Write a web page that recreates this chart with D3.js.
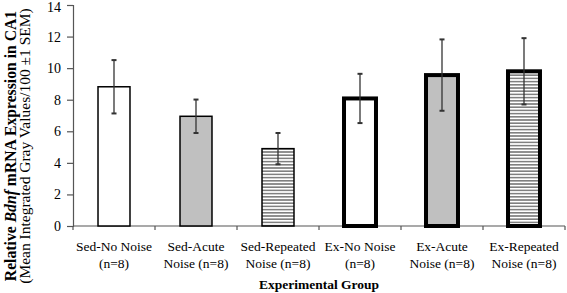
<!DOCTYPE html>
<html>
<head>
<meta charset="utf-8">
<script src="https://cdn.jsdelivr.net/npm/d3@7"></script>
<style>
  body { margin: 0; background: #fff; }
  text { font-family: "Liberation Serif", "Times New Roman", serif; fill: #000; }
</style>
</head>
<body>
<div id="chart"></div>
<script>
// data
const groups = ["Sed-No Noise", "Sed-Acute Noise", "Sed-Repeated Noise", "Ex-No Noise", "Ex-Acute Noise", "Ex-Repeated Noise"];
const labelLines = [
    ["Sed-No Noise", "(n=8)"],
    ["Sed-Acute", "Noise (n=8)"],
    ["Sed-Repeated", "Noise (n=8)"],
    ["Ex-No Noise", "(n=8)"],
    ["Ex-Acute", "Noise (n=8)"],
    ["Ex-Repeated", "Noise (n=8)"]
];
const means = [8.82, 6.95, 4.90, 8.08, 9.56, 9.80];
const sems = [1.69, 1.06, 0.99, 1.56, 2.26, 2.10];
const fills = ["white", "gray", "stripe", "white", "gray", "stripe"];
const thick = [false, false, false, true, true, true];
const yTicks = [0, 2, 4, 6, 8, 10, 12, 14];

const width = 567, height = 293;
const margin = {top: 5, right: 2, bottom: 67, left: 73};

const svg = d3.select("#chart").append("svg")
    .attr("width", width)
    .attr("height", height);

// horizontal stripes
const defs = svg.append("defs");
const pat = defs.append("pattern")
    .attr("id", "stripes")
    .attr("patternUnits", "userSpaceOnUse")
    .attr("width", 10)
    .attr("height", 3.2);
pat.append("rect").attr("width", 10).attr("height", 3.2).attr("fill", "white");
pat.append("line")
    .attr("x1", 0).attr("x2", 10)
    .attr("y1", 1.6).attr("y2", 1.6)
    .attr("stroke", "#333")
    .attr("stroke-width", 1);

const x = d3.scaleBand()
    .domain(groups)
    .range([margin.left, width - margin.right])
    .padding(0);

const y = d3.scaleLinear()
    .domain([0, 14])
    .range([height - margin.bottom, margin.top]);

// axes
const yAxis = svg.append("g")
    .attr("transform", `translate(${margin.left},0)`)
    .call(d3.axisLeft(y).tickValues(yTicks).tickSize(6).tickPadding(6));
yAxis.selectAll("text").style("font-size", "14px");
yAxis.selectAll(".tick text").filter(d => d === 14).attr("dy", "0.45em");

const boundaries = groups.map(g => x(g)).concat([x.range()[1]]);
const xAxis = svg.append("g").attr("class", "x-axis");
xAxis.append("line")
    .attr("x1", margin.left).attr("x2", width - margin.right)
    .attr("y1", y(0)).attr("y2", y(0));
xAxis.selectAll(".tick")
    .data(boundaries)
    .enter().append("line")
    .attr("x1", d => d).attr("x2", d => d)
    .attr("y1", y(0)).attr("y2", y(0) + 4);

svg.selectAll(".domain, .tick line, .x-axis line")
    .attr("stroke", "#555")
    .attr("stroke-width", 1.2);

// bars
const barW = x.bandwidth() * 0.39;
svg.selectAll(".bar")
    .data(groups)
    .enter().append("rect")
    .attr("class", "bar")
    .attr("x", d => x(d) + x.bandwidth() / 2 - barW / 2)
    .attr("y", (d, i) => y(means[i]))
    .attr("width", barW)
    .attr("height", (d, i) => y(0) - y(means[i]))
    .attr("fill", (d, i) => fills[i] === "gray" ? "#c0c0c0" : fills[i] === "stripe" ? "url(#stripes)" : "white")
    .attr("stroke", "#000")
    .attr("stroke-width", (d, i) => thick[i] ? 4 : 1.5);

// error bars
const err = svg.selectAll(".err")
    .data(groups)
    .enter().append("g")
    .attr("class", "err")
    .attr("stroke", "#333")
    .attr("stroke-width", 1.3);
err.append("line")
    .attr("x1", d => x(d) + x.bandwidth() / 2)
    .attr("x2", d => x(d) + x.bandwidth() / 2)
    .attr("y1", (d, i) => y(means[i] + sems[i]))
    .attr("y2", (d, i) => y(means[i] - sems[i]));
[1, -1].forEach(s => {
    err.append("line")
        .attr("x1", d => x(d) + x.bandwidth() / 2 - 2.5)
        .attr("x2", d => x(d) + x.bandwidth() / 2 + 2.5)
        .attr("y1", (d, i) => y(means[i] + s * sems[i]))
        .attr("y2", (d, i) => y(means[i] + s * sems[i]))
        .attr("stroke-width", 2);
});

// category labels
const cat = svg.selectAll(".cat")
    .data(groups)
    .enter().append("text")
    .attr("class", "cat")
    .attr("text-anchor", "middle")
    .style("font-size", "13.5px");
cat.append("tspan")
    .attr("x", d => x(d) + x.bandwidth() / 2)
    .attr("y", 251)
    .text((d, i) => labelLines[i][0]);
cat.append("tspan")
    .attr("x", d => x(d) + x.bandwidth() / 2)
    .attr("y", 268)
    .text((d, i) => labelLines[i][1]);

// x axis title
svg.append("text")
    .attr("x", (margin.left + width - margin.right) / 2)
    .attr("y", 289)
    .attr("text-anchor", "middle")
    .style("font-size", "13.5px")
    .style("font-weight", "bold")
    .text("Experimental Group");

// y axis title
const yt = svg.append("g")
    .attr("transform", "translate(0,146) rotate(-90)");
const t1 = yt.append("text")
    .attr("x", 0).attr("y", 16)
    .attr("text-anchor", "middle")
    .style("font-size", "15.7px")
    .style("font-weight", "bold");
t1.append("tspan").text("Relative ");
t1.append("tspan").style("font-style", "italic").text("Bdnf");
t1.append("tspan").text(" mRNA Expression in CA1");
yt.append("text")
    .attr("x", 0).attr("y", 29.5)
    .attr("text-anchor", "middle")
    .style("font-size", "15.5px")
    .text("(Mean Integrated Gray Values/100 \u00b11 SEM)");
</script>
</body>
</html>
